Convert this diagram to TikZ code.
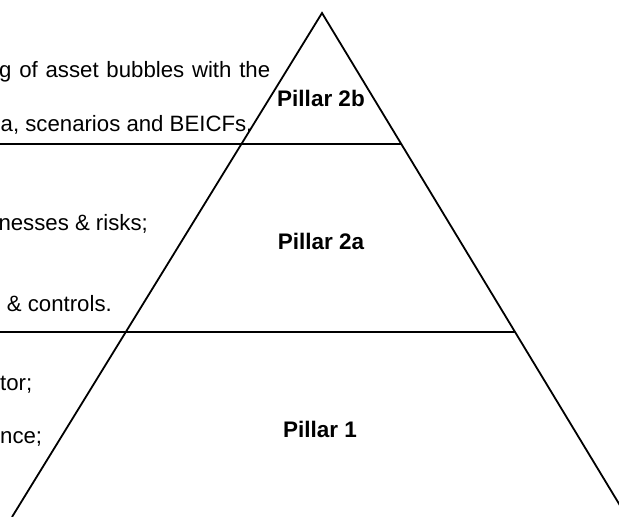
\documentclass[tikz,border=0pt]{standalone}
\usepackage{fontspec}
\setmainfont{Liberation Sans}
\begin{document}
\begin{tikzpicture}[x=1pt,y=-1pt,
  side/.style={line width=1.8pt,black},
  tier/.style={line width=1.3pt,black},
  desc/.style={inner sep=0pt,font=\fontsize{22.2}{26}\selectfont,text=black},
  pillar/.style={inner sep=0pt,anchor=base,font=\fontsize{22.5}{26}\bfseries\selectfont}]
\useasboundingbox (0,0) rectangle (619,517);
\clip (0,0) rectangle (619,517);
\coordinate (apex) at (322,13);
\coordinate (bl) at (12,517);
\coordinate (br) at (627,517);
\coordinate (t1l) at (0,144);
\coordinate (t1r) at (401,144);
\coordinate (t2l) at (0,332);
\coordinate (t2r) at (515,332);
\draw[side] (bl) -- (apex) -- (br);
\draw[tier] (t1l) -- (t1r);
\draw[tier] (t2l) -- (t2r);
\node[pillar] (p2b) at (321,106) {Pillar 2b};
\node[pillar] (p2a) at (321,249) {Pillar 2a};
\node[pillar] (p1) at (320,437) {Pillar 1};
\node[desc,anchor=base west] (d1) at (-1,77) {\makebox[271pt][s]{g of asset bubbles with the}};
\node[desc,anchor=base west] (d2) at (0.5,131) {a, scenarios and BEICFs.};
\node[desc,anchor=base east] (d3) at (148,230) {nesses \& risks;};
\node[desc,anchor=base east] (d4) at (112,311) {\& controls.};
\node[desc,anchor=base west] (d5) at (0,390) {tor;};
\node[desc,anchor=base west] (d6) at (0,443) {nce;};
\end{tikzpicture}
\end{document}
